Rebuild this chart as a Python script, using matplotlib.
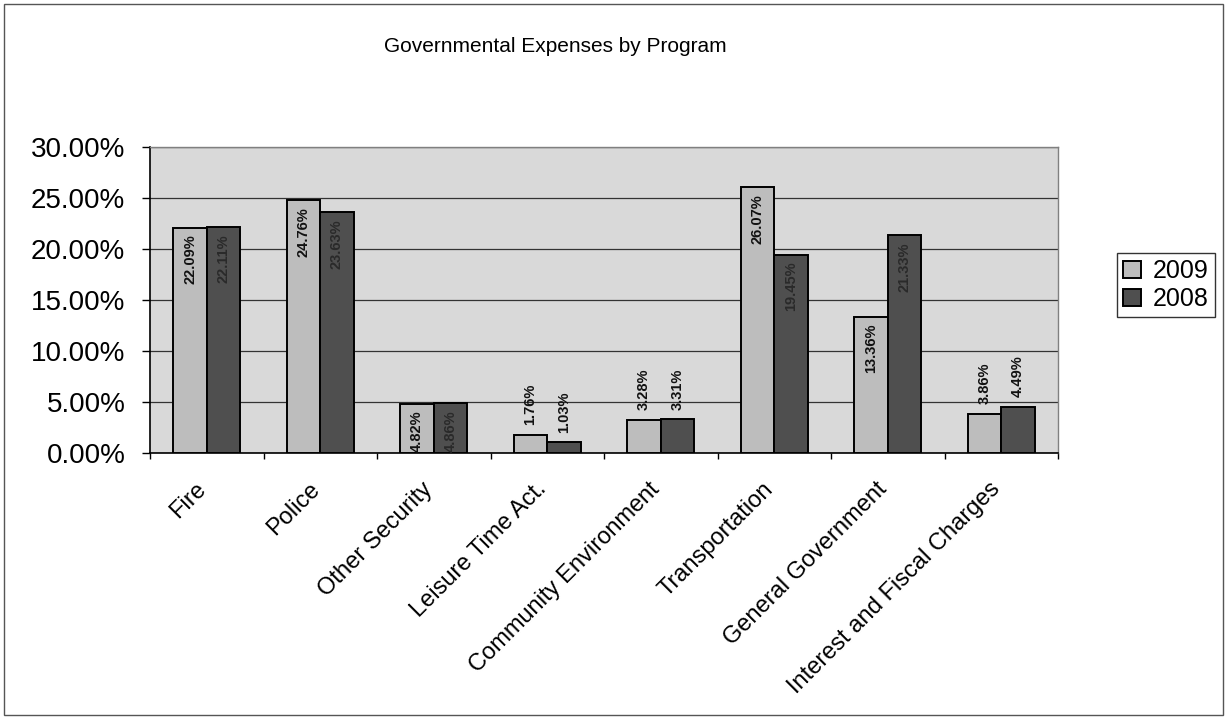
import matplotlib
matplotlib.use("Agg")
import matplotlib.pyplot as plt
import matplotlib.transforms as mtransforms
import numpy as np
from matplotlib.patches import Rectangle
from matplotlib.ticker import FuncFormatter, FixedLocator

categories = ["Fire", "Police", "Other Security", "Leisure Time Act.",
              "Community Environment", "Transportation", "General Government",
              "Interest and Fiscal Charges"]
v2009 = [22.09, 24.76, 4.82, 1.76, 3.28, 26.07, 13.36, 3.86]
v2008 = [22.11, 23.63, 4.86, 1.03, 3.31, 19.45, 21.33, 4.49]
series_names = ["2009", "2008"]
yticks = [0, 5, 10, 15, 20, 25, 30]
title = "Governmental Expenses by Program"

plt.rcParams['font.family'] = ['Liberation Sans', 'DejaVu Sans']

fig = plt.figure(figsize=(12.27, 7.18), dpi=100)
fig.patch.set_facecolor("white")
ax = fig.add_axes([150/1227, 1-453/718, (1058-150)/1227, (453-147)/718])
ax.set_facecolor("#d9d9d9")

x = np.arange(len(categories))
w = 0.295
c2009 = "#bdbdbd"
c2008 = "#4f4f4f"
b1 = ax.bar(x - w/2, v2009, w, color=c2009, edgecolor="black", linewidth=1.4,
            label=series_names[0], zorder=3)
b2 = ax.bar(x + w/2, v2008, w, color=c2008, edgecolor="black", linewidth=1.4,
            label=series_names[1], zorder=3)

def put_labels(xs, vals, color_in):
    for xi, v in zip(xs, vals):
        txt = f"{v:.2f}%"
        if v > 4.5:
            ax.annotate(txt, (xi, v), xytext=(0, -5), textcoords="offset points",
                        rotation=90, ha="center", va="top", fontsize=10.5,
                        fontweight="bold", color=color_in, zorder=5)
        else:
            ax.annotate(txt, (xi, v), xytext=(0, 7), textcoords="offset points",
                        rotation=90, ha="center", va="bottom", fontsize=10.5,
                        fontweight="bold", color="#111111", zorder=5)

put_labels(x - w/2, v2009, "#111111")
put_labels(x + w/2, v2008, "#2a2a2a")

ax.set_xlim(-0.5, len(categories) - 0.5)
ax.set_ylim(0, 30)
ax.set_yticks(yticks)
ax.yaxis.set_major_formatter(FuncFormatter(lambda v, p: f"{v:.2f}%"))
ax.tick_params(axis="y", labelsize=20, length=5.8, width=1, direction="out", pad=12, colors="black")
ax.grid(axis="y", color="#333333", linewidth=0.9, zorder=1)

ax.set_xticks(x)
ax.set_xticklabels(categories, rotation=45, ha="right", va="top",
                   rotation_mode="anchor", fontsize=17)
ax.tick_params(axis="x", which="major", length=0, pad=18)
offset = mtransforms.ScaledTranslation(-12/100, 0, fig.dpi_scale_trans)
for lbl in ax.get_xticklabels():
    lbl.set_transform(lbl.get_transform() + offset)
ax.xaxis.set_minor_locator(FixedLocator(np.arange(-0.5, len(categories), 1.0)))
ax.tick_params(axis="x", which="minor", length=4, width=1, direction="out")

for s in ["left", "bottom"]:
    ax.spines[s].set_color("black")
    ax.spines[s].set_linewidth(1.2)
for s in ["top", "right"]:
    ax.spines[s].set_color("#808080")
    ax.spines[s].set_linewidth(1.0)

fig.text(555/1227, 1 - 47/718, title, ha="center", va="center", fontsize=15)

leg = fig.legend(handles=[b1, b2], labels=series_names,
                 loc="upper left", bbox_to_anchor=(1117/1227, 1 - 253/718),
                 fontsize=18, frameon=True, fancybox=False, edgecolor="black",
                 handlelength=0.7, handleheight=0.7, handletextpad=0.5,
                 borderpad=0.25, labelspacing=0.15, borderaxespad=0)
leg.get_frame().set_linewidth(1.0)

fig.patches.append(Rectangle((4/1227, 3/718), 1219/1227, 711/718,
                             transform=fig.transFigure, fill=False,
                             edgecolor="#555555", linewidth=1.0))

fig.savefig("out.png", dpi=100, facecolor="white")
